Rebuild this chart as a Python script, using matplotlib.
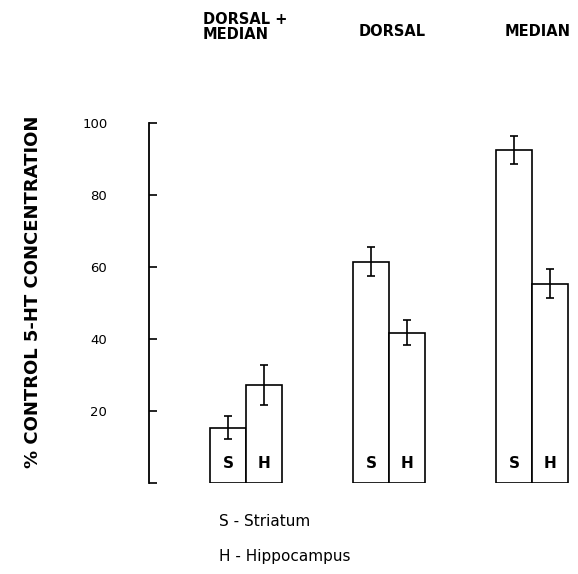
import numpy as np
import matplotlib.pyplot as plt

# 5-HT levels after raphe lesions, % of control
groups = ['DORSAL +\nMEDIAN', 'DORSAL', 'MEDIAN']
striatum = [15.3, 61.5, 92.5]
striatum_err = [3.2, 4.0, 4.0]
hippocampus = [27.3, 41.7, 55.4]
hippocampus_err = [5.5, 3.5, 4.0]
yticks = [0, 20, 40, 60, 80, 100]
ytick_labels = ['', '20', '40', '60', '80', '100']

fig = plt.figure(figsize=(5.78, 5.74), dpi=100)
ax = fig.add_axes([149 / 578, 91 / 574, 429 / 578, 360 / 574])

x = np.arange(len(groups))
w = 0.25
bar_kw = dict(width=w, color='white', edgecolor='black', linewidth=1.2)
err_kw = dict(fmt='none', ecolor='black', elinewidth=1.2, capsize=3, capthick=1.2)

ax.bar(x - w / 2, striatum, **bar_kw)
ax.bar(x + w / 2, hippocampus, **bar_kw)
ax.errorbar(x - w / 2, striatum, yerr=striatum_err, **err_kw)
ax.errorbar(x + w / 2, hippocampus, yerr=hippocampus_err, **err_kw)

for xi in x:
    ax.text(xi - w / 2, 5.5, 'S', ha='center', va='center', fontsize=11, fontweight='bold')
    ax.text(xi + w / 2, 5.5, 'H', ha='center', va='center', fontsize=11, fontweight='bold')

ax.set_xlim(-0.678, 2.32)
ax.set_ylim(0, 100)
ax.set_yticks(yticks)
ax.set_yticklabels(ytick_labels, fontsize=9.5)
ax.tick_params(axis='y', direction='in', length=6, width=1.2, pad=30)
ax.set_xticks([])
for side in ['top', 'right', 'bottom']:
    ax.spines[side].set_visible(False)
ax.spines['left'].set_linewidth(1.3)

# group headings above the bars
fig.text(203 / 578, 1 - 27 / 574, groups[0], ha='left', va='center', fontsize=10.5,
         fontweight='bold', linespacing=1.0)
fig.text(392 / 578, 1 - 31 / 574, groups[1], ha='center', va='center', fontsize=10.5,
         fontweight='bold')
fig.text(538 / 578, 1 - 31 / 574, groups[2], ha='center', va='center', fontsize=10.5,
         fontweight='bold')

fig.text(33 / 578, 1 - 292 / 574, '% CONTROL 5-HT CONCENTRATION', rotation=90,
         ha='center', va='center', fontsize=13, fontweight='bold')

fig.text(219 / 578, 1 - 522 / 574, 'S - Striatum', ha='left', va='center', fontsize=11)
fig.text(219 / 578, 1 - 557 / 574, 'H - Hippocampus', ha='left', va='center', fontsize=11)

fig.savefig('out.png', dpi=100)
